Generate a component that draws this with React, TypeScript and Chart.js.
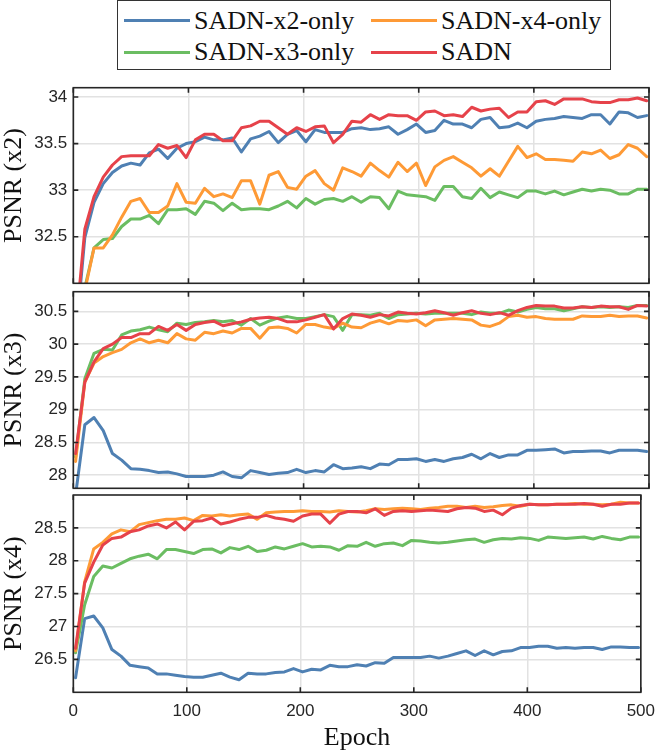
import { useEffect, useRef } from "react";
import { Chart, registerables } from "chart.js";

Chart.register(...registerables);

// epochs at which PSNR was logged
const epochs = [
  2, 10, 18, 26, 34, 42, 50, 58, 66, 74, 82, 90, 98, 106, 114, 122, 130, 138,
  146, 154, 162, 170, 178, 186, 194, 202, 210, 218, 226, 234, 242, 250, 258,
  266, 274, 282, 290, 298, 306, 314, 322, 330, 338, 346, 354, 362, 370, 378,
  386, 394, 402, 410, 418, 426, 434, 442, 450, 458, 466, 474, 482, 490, 498,
];
const epochTicks = [0, 100, 200, 300, 400, 500];

const labels = ["SADN-x2-only", "SADN-x4-only", "SADN-x3-only", "SADN"];

// PSNR (x2)
const x2_x2only = [
  31.4, 32.49, 32.87, 33.07, 33.19, 33.26, 33.29, 33.27, 33.4, 33.44, 33.34,
  33.45, 33.5, 33.52, 33.57, 33.54, 33.54, 33.56, 33.41, 33.55, 33.58, 33.63,
  33.51, 33.6, 33.64, 33.52, 33.65, 33.62, 33.62, 33.62, 33.66, 33.67, 33.65,
  33.66, 33.68, 33.6, 33.65, 33.71, 33.62, 33.64, 33.75, 33.71, 33.71, 33.67,
  33.76, 33.78, 33.67, 33.68, 33.72, 33.67, 33.74, 33.76, 33.77, 33.79, 33.78,
  33.77, 33.81, 33.81, 33.71, 33.84, 33.83, 33.78, 33.8,
];
const x2_x4only = [
  31.5, 31.92, 32.38, 32.38, 32.52, 32.71, 32.88, 32.91, 32.76, 32.76, 32.83,
  33.07, 32.87, 32.86, 33.02, 32.93, 32.96, 32.92, 33.1, 33.1, 32.85, 33.16,
  33.2, 33.03, 33.01, 33.15, 33.21, 33.07, 33.0, 33.24, 33.2, 33.15, 33.29,
  33.21, 33.14, 33.3, 33.2, 33.29, 33.05, 33.25, 33.32, 33.36, 33.3, 33.24,
  33.15, 33.23, 33.15, 33.31, 33.47, 33.35, 33.39, 33.33, 33.33, 33.32, 33.31,
  33.41, 33.39, 33.43, 33.34, 33.38, 33.49, 33.45, 33.36,
];
const x2_x3only = [
  31.6, 31.95, 32.38, 32.47, 32.48, 32.61, 32.69, 32.69, 32.73, 32.64, 32.79,
  32.79, 32.8, 32.74, 32.88, 32.86, 32.78, 32.86, 32.79, 32.8, 32.8, 32.79,
  32.83, 32.88, 32.81, 32.91, 32.85, 32.9, 32.91, 32.88, 32.93, 32.87, 32.93,
  32.92, 32.8, 32.99, 32.95, 32.94, 32.93, 32.89, 33.04, 33.04, 32.93, 32.91,
  33.02, 32.92, 32.98, 32.95, 32.92, 32.99, 32.99, 32.96, 32.99, 32.95, 32.98,
  33.01, 32.99, 33.01, 33.0, 32.96, 32.96, 33.01, 33.01,
];
const x2_sadn = [
  31.5, 32.58, 32.93, 33.14, 33.27, 33.36, 33.37, 33.37, 33.37, 33.49, 33.45,
  33.48, 33.35, 33.54, 33.6, 33.6, 33.53, 33.53, 33.67, 33.69, 33.74, 33.74,
  33.67, 33.6, 33.67, 33.63, 33.68, 33.69, 33.51, 33.6, 33.74, 33.73, 33.81,
  33.76, 33.81, 33.8, 33.8, 33.75, 33.84, 33.85, 33.8, 33.81, 33.79, 33.89,
  33.85, 33.87, 33.88, 33.78, 33.84, 33.84, 33.95, 33.96, 33.92, 33.98, 33.98,
  33.98, 33.95, 33.94, 33.94, 33.97, 33.97, 33.99, 33.96,
];

// PSNR (x3)
const x3_x2only = [
  27.7, 28.77, 28.88, 28.68, 28.33, 28.23, 28.1, 28.09, 28.07, 28.04, 28.05,
  28.02, 27.98, 27.98, 27.98, 28.0, 28.05, 27.98, 27.96, 28.07, 28.04, 28.01,
  28.03, 28.04, 28.09, 28.04, 28.07, 28.05, 28.16, 28.1, 28.11, 28.13, 28.1,
  28.17, 28.16, 28.24, 28.24, 28.25, 28.21, 28.24, 28.21, 28.25, 28.27, 28.32,
  28.25, 28.33, 28.27, 28.31, 28.31, 28.38, 28.38, 28.39, 28.4, 28.34, 28.36,
  28.36, 28.37, 28.37, 28.34, 28.38, 28.38, 28.38, 28.36,
];
const x3_x4only = [
  28.21, 29.42, 29.71, 29.81, 29.87, 29.92, 30.02, 30.08, 30.02, 30.06, 30.02,
  30.16, 30.08, 30.06, 30.18, 30.16, 30.2, 30.17, 30.24, 30.24, 30.09, 30.25,
  30.26, 30.24, 30.17, 30.3, 30.3, 30.26, 30.24, 30.32, 30.26, 30.25, 30.32,
  30.36, 30.31, 30.36, 30.35, 30.37, 30.28, 30.37, 30.38, 30.39, 30.38, 30.37,
  30.29, 30.27, 30.32, 30.42, 30.44, 30.41, 30.42, 30.39, 30.38, 30.38, 30.38,
  30.43, 30.42, 30.42, 30.44, 30.42, 30.43, 30.43, 30.4,
];
const x3_x3only = [
  28.28, 29.47, 29.86, 29.92, 29.91, 30.14, 30.2, 30.22, 30.26, 30.22, 30.19,
  30.32, 30.3, 30.33, 30.34, 30.36, 30.34, 30.36, 30.29, 30.39, 30.29, 30.35,
  30.4, 30.42, 30.39, 30.39, 30.42, 30.45, 30.42, 30.21, 30.45, 30.45, 30.44,
  30.47, 30.39, 30.45, 30.46, 30.47, 30.46, 30.47, 30.47, 30.47, 30.47, 30.45,
  30.49, 30.47, 30.47, 30.52, 30.49, 30.53, 30.56, 30.54, 30.54, 30.51, 30.54,
  30.57, 30.56, 30.57, 30.56, 30.57, 30.56, 30.59, 30.59,
];
const x3_sadn = [
  28.33, 29.42, 29.73, 29.93, 30.0, 30.1, 30.1, 30.16, 30.16, 30.27, 30.21,
  30.3, 30.21, 30.3, 30.33, 30.35, 30.28, 30.31, 30.34, 30.38, 30.4, 30.41,
  30.39, 30.34, 30.34, 30.37, 30.41, 30.45, 30.23, 30.39, 30.46, 30.44, 30.41,
  30.45, 30.43, 30.49, 30.47, 30.46, 30.48, 30.51, 30.48, 30.44, 30.48, 30.51,
  30.47, 30.45, 30.48, 30.44, 30.51, 30.56, 30.59, 30.58, 30.58, 30.55, 30.55,
  30.57, 30.56, 30.58, 30.57, 30.57, 30.53, 30.59, 30.58,
];

// PSNR (x4)
const x4_x2only = [
  26.22, 27.12, 27.16, 26.98, 26.65, 26.55, 26.41, 26.39, 26.37, 26.28, 26.28,
  26.26, 26.24, 26.23, 26.23, 26.26, 26.29, 26.23, 26.19, 26.29, 26.28, 26.28,
  26.3, 26.31, 26.36, 26.31, 26.35, 26.34, 26.41, 26.39, 26.39, 26.42, 26.4,
  26.45, 26.44, 26.53, 26.53, 26.53, 26.53, 26.55, 26.52, 26.55, 26.59, 26.63,
  26.56, 26.63, 26.57, 26.62, 26.63, 26.68, 26.68, 26.7, 26.7, 26.67, 26.68,
  26.67, 26.68, 26.68, 26.65, 26.69, 26.69, 26.68, 26.68,
];
const x4_x4only = [
  26.63, 27.68, 28.18, 28.28, 28.41, 28.47, 28.44, 28.55, 28.58, 28.61, 28.63,
  28.63, 28.65, 28.61, 28.69, 28.68, 28.7, 28.68, 28.7, 28.71, 28.63, 28.73,
  28.74, 28.75, 28.75, 28.76, 28.75, 28.75, 28.74, 28.76, 28.75, 28.74, 28.76,
  28.79, 28.78, 28.79, 28.8, 28.79, 28.78, 28.8, 28.81, 28.83, 28.83, 28.81,
  28.83, 28.81, 28.82, 28.84, 28.85, 28.83, 28.86, 28.85, 28.85, 28.86, 28.86,
  28.87, 28.86, 28.86, 28.85, 28.86, 28.89, 28.88, 28.88,
];
const x4_x3only = [
  26.6, 27.33, 27.76, 27.92, 27.89, 27.96, 28.03, 28.07, 28.1, 28.03, 28.17,
  28.17, 28.14, 28.11, 28.17, 28.18, 28.12, 28.2, 28.17, 28.22, 28.14, 28.16,
  28.21, 28.18, 28.22, 28.26, 28.21, 28.22, 28.21, 28.16, 28.23, 28.22, 28.28,
  28.22, 28.26, 28.27, 28.23, 28.31, 28.3, 28.28, 28.27, 28.28, 28.3, 28.32,
  28.33, 28.28, 28.32, 28.34, 28.33, 28.35, 28.34, 28.31, 28.36, 28.35, 28.34,
  28.35, 28.36, 28.33, 28.37, 28.34, 28.32, 28.36, 28.36,
];
const x4_sadn = [
  26.67, 27.66, 27.98, 28.24, 28.34, 28.36, 28.44, 28.47, 28.53, 28.56, 28.5,
  28.59, 28.47, 28.6, 28.61, 28.65, 28.56, 28.59, 28.63, 28.66, 28.66, 28.69,
  28.65, 28.63, 28.6, 28.68, 28.71, 28.71, 28.57, 28.71, 28.75, 28.75, 28.73,
  28.79, 28.69, 28.75, 28.76, 28.75, 28.76, 28.77, 28.76, 28.75, 28.79, 28.81,
  28.8, 28.75, 28.77, 28.7, 28.8, 28.84, 28.86, 28.85, 28.85, 28.86, 28.86,
  28.86, 28.87, 28.86, 28.83, 28.86, 28.86, 28.88, 28.88,
];

const ticksX2 = [32.5, 33, 33.5, 34];
const ticksX3 = [28, 28.5, 29, 29.5, 30, 30.5];
const ticksX4 = [26.5, 27, 27.5, 28, 28.5];

// same order as labels: x2-only, x4-only, x3-only, SADN
const colors = ["#4f80b3", "#fe9a36", "#6bbd62", "#e6424a"];
const drawOrder = [4, 2, 3, 1];

const W = 664;
const H = 754;
const PLOT_LEFT = 73.3;
const PLOT_RIGHT = 649;
const SANS = "'Liberation Sans', Arial, sans-serif";
const SERIF = "'Liberation Serif', 'Times New Roman', serif";

// box round the plot area with inward tick marks, like MATLAB axes
const framePlugin = {
  id: "frame",
  afterDatasetsDraw(chart: any) {
    const { ctx, chartArea: a, scales } = chart;
    const t = 5;
    ctx.save();
    ctx.strokeStyle = "#262626";
    ctx.lineWidth = 1.6;
    ctx.beginPath();
    scales.y.ticks.forEach((tk: any) => {
      const py = scales.y.getPixelForValue(tk.value);
      ctx.moveTo(a.left, py);
      ctx.lineTo(a.left + t, py);
      ctx.moveTo(a.right, py);
      ctx.lineTo(a.right - t, py);
    });
    scales.x.ticks.forEach((tk: any) => {
      const px = scales.x.getPixelForValue(tk.value);
      ctx.moveTo(px, a.top);
      ctx.lineTo(px, a.top + t);
      ctx.moveTo(px, a.bottom);
      ctx.lineTo(px, a.bottom - t);
    });
    ctx.stroke();
    ctx.strokeRect(a.left, a.top, a.right - a.left, a.bottom - a.top);
    ctx.restore();
  },
};

type PanelProps = {
  series: number[][];
  yMin: number;
  yMax: number;
  yTicks: number[];
  yTitle: string;
  top: number;
  bottom: number;
  showX: boolean;
};

const Panel = ({ series, yMin, yMax, yTicks, yTitle, top, bottom, showX }: PanelProps) => {
  const canvasRef = useRef<HTMLCanvasElement>(null);

  useEffect(() => {
    if (!canvasRef.current) return;
    const xAxisH = showX ? H - bottom : 0;
    const chart = new Chart(canvasRef.current, {
      type: "line",
      data: {
        datasets: series.map((vals, i) => ({
          label: labels[i],
          data: epochs.map((e, j) => ({ x: e, y: vals[j] })),
          borderColor: colors[i],
          backgroundColor: colors[i],
          borderWidth: 3,
          pointRadius: 0,
          tension: 0,
          borderJoinStyle: "round",
          borderCapStyle: "round",
          order: drawOrder[i],
        })),
      },
      options: {
        responsive: false,
        animation: false,
        events: [],
        layout: {
          padding: {
            top: top,
            bottom: showX ? 0 : H - bottom,
            left: 0,
            right: W - PLOT_RIGHT,
          },
        },
        plugins: {
          legend: { display: false },
          tooltip: { enabled: false },
        },
        scales: {
          x: {
            type: "linear",
            min: 0,
            max: 500,
            afterBuildTicks: (s: any) => {
              s.ticks = epochTicks.map((v) => ({ value: v }));
            },
            afterFit: (s: any) => {
              s.height = xAxisH;
            },
            ticks: {
              display: showX,
              padding: 9,
              color: "#262626",
              font: { family: SANS, size: 17 },
              callback: (v: any) => String(v),
            },
            grid: { color: "#e2e2e2", lineWidth: 1.5, drawTicks: false },
            border: { display: false },
            title: {
              display: showX,
              text: "Epoch",
              color: "#111",
              font: { family: SERIF, size: 26 },
              padding: { top: 0, bottom: 0 },
            },
          },
          y: {
            min: yMin,
            max: yMax,
            afterBuildTicks: (s: any) => {
              s.ticks = yTicks.map((v) => ({ value: v }));
            },
            afterFit: (s: any) => {
              s.width = PLOT_LEFT;
            },
            ticks: {
              padding: 6,
              color: "#262626",
              font: { family: SANS, size: 17 },
              callback: (v: any) => String(v),
            },
            grid: { color: "#e2e2e2", lineWidth: 1.5, drawTicks: false },
            border: { display: false },
            title: {
              display: true,
              text: yTitle,
              color: "#111",
              font: { family: SERIF, size: 26 },
              padding: { top: -1, bottom: 0 },
            },
          },
        },
      },
      plugins: [framePlugin],
    } as any);

    return () => {
      chart.destroy();
    };
  }, []);

  return (
    <canvas
      ref={canvasRef}
      width={W}
      height={H}
      style={{ position: "absolute", left: 0, top: 0 }}
    />
  );
};

const Legend = () => {
  const cells = [
    { i: 0, x: 123, y: 0 },
    { i: 1, x: 370, y: 0 },
    { i: 2, x: 123, y: 1 },
    { i: 3, x: 370, y: 1 },
  ];
  return (
    <div
      style={{
        position: "absolute",
        left: 117,
        top: 0,
        width: 494,
        height: 70,
        border: "1.5px solid #333",
        background: "#fff",
        boxSizing: "border-box",
      }}
    >
      {cells.map((c) => (
        <div key={c.i}>
          <div
            style={{
              position: "absolute",
              left: c.x - 117,
              top: (c.y === 0 ? 20.7 : 53) - 1.5 - 1.5,
              width: 66,
              height: 3,
              background: colors[c.i],
            }}
          />
          <span
            style={{
              position: "absolute",
              left: c.x - 117 + 70,
              top: (c.y === 0 ? 8.2 : 39.9) - 1.5,
              fontFamily: SERIF,
              fontSize: 26,
              lineHeight: 1,
              color: "#111",
              whiteSpace: "nowrap",
            }}
          >
            {labels[c.i]}
          </span>
        </div>
      ))}
    </div>
  );
};

export default function App() {
  return (
    <div
      style={{
        position: "absolute",
        left: 0,
        top: 0,
        width: W,
        height: H,
        background: "#fff",
      }}
    >
      <Panel
        series={[x2_x2only, x2_x4only, x2_x3only, x2_sadn]}
        yMin={32}
        yMax={34.1}
        yTicks={ticksX2}
        yTitle="PSNR (x2)"
        top={87.7}
        bottom={283.3}
        showX={false}
      />
      <Panel
        series={[x3_x2only, x3_x4only, x3_x3only, x3_sadn]}
        yMin={27.8}
        yMax={30.8}
        yTicks={ticksX3}
        yTitle="PSNR (x3)"
        top={291.7}
        bottom={488.3}
        showX={false}
      />
      <Panel
        series={[x4_x2only, x4_x4only, x4_x3only, x4_sadn]}
        yMin={26}
        yMax={29}
        yTicks={ticksX4}
        yTitle="PSNR (x4)"
        top={495}
        bottom={692.3}
        showX={true}
      />
      <Legend />
    </div>
  );
}
